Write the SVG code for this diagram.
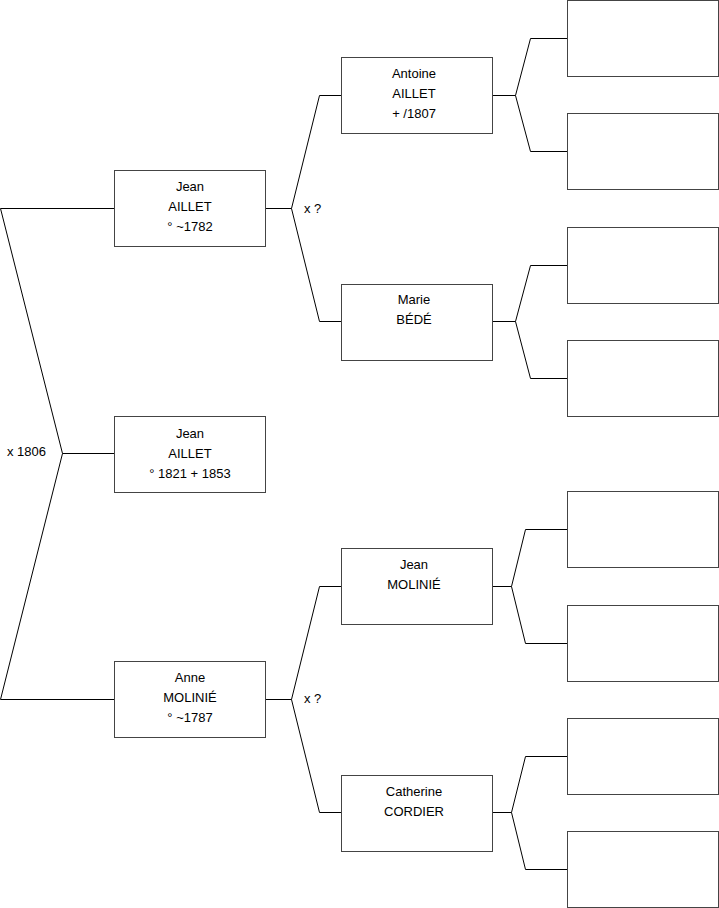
<svg xmlns="http://www.w3.org/2000/svg" width="719" height="908" viewBox="0 0 719 908">
<style>
rect{fill:#fff;stroke:#444;stroke-width:1}
path{fill:none;stroke:#000;stroke-width:1}
text{font-family:"Liberation Sans",Arial,sans-serif;font-size:13px;fill:#000}
.c{text-anchor:middle}
</style>
<rect x="0" y="0" width="719" height="908" style="stroke:none"/>
<g id="connectors">
<path d="M0.5,208.5H114.5M0.5,208.5L62.5,453.5L0.5,699.5H114.5M62.5,453.5H114.5"/>
<path d="M265.5,208.5H291.5M341.5,95.5H319.5L291.5,208.5L319.5,321.5H341.5"/>
<path d="M265.5,699.5H291.5M341.5,586.5H319.5L291.5,699.5L319.5,812.5H341.5"/>
<path d="M492.5,95.5H515.5M567.5,38.5H530.5L515.5,95.5L530.5,151.5H567.5"/>
<path d="M492.5,321.5H515.5M567.5,265.5H530.5L515.5,321.5L530.5,378.5H567.5"/>
<path d="M492.5,586.5H511.5M567.5,529.5H525.5L511.5,586.5L525.5,643.5H567.5"/>
<path d="M492.5,812.5H511.5M567.5,756.5H525.5L511.5,812.5L525.5,869.5H567.5"/>
<text x="7" y="456">x 1806</text>
<text x="304" y="212.5">x ?</text>
<text x="304" y="702.5">x ?</text>
</g>
<g id="jean-aillet-1782">
<rect x="114.5" y="170.5" width="151" height="76"/>
<text class="c" x="190" y="191">Jean</text>
<text class="c" x="190" y="211">AILLET</text>
<text class="c" x="190" y="231">° ~1782</text>
</g>
<g id="jean-aillet-1821">
<rect x="114.5" y="416.5" width="151" height="76"/>
<text class="c" x="190" y="438">Jean</text>
<text class="c" x="190" y="458">AILLET</text>
<text class="c" x="190" y="478">° 1821 + 1853</text>
</g>
<g id="anne-molinie">
<rect x="114.5" y="661.5" width="151" height="76"/>
<text class="c" x="190" y="682">Anne</text>
<text class="c" x="190" y="702">MOLINIÉ</text>
<text class="c" x="190" y="722">° ~1787</text>
</g>
<g id="antoine-aillet">
<rect x="341.5" y="57.5" width="151" height="76"/>
<text class="c" x="414" y="78">Antoine</text>
<text class="c" x="414" y="98">AILLET</text>
<text class="c" x="414" y="118">+ /1807</text>
</g>
<g id="marie-bede">
<rect x="341.5" y="284.5" width="151" height="76"/>
<text class="c" x="414" y="304">Marie</text>
<text class="c" x="414" y="324">BÉDÉ</text>
</g>
<g id="jean-molinie">
<rect x="341.5" y="548.5" width="151" height="76"/>
<text class="c" x="414" y="569">Jean</text>
<text class="c" x="414" y="589">MOLINIÉ</text>
</g>
<g id="catherine-cordier">
<rect x="341.5" y="775.5" width="151" height="76"/>
<text class="c" x="414" y="796">Catherine</text>
<text class="c" x="414" y="816">CORDIER</text>
</g>
<g id="empty-1"><rect x="567.5" y="0.5" width="151" height="76"/></g>
<g id="empty-2"><rect x="567.5" y="113.5" width="151" height="76"/></g>
<g id="empty-3"><rect x="567.5" y="227.5" width="151" height="76"/></g>
<g id="empty-4"><rect x="567.5" y="340.5" width="151" height="76"/></g>
<g id="empty-5"><rect x="567.5" y="491.5" width="151" height="76"/></g>
<g id="empty-6"><rect x="567.5" y="605.5" width="151" height="76"/></g>
<g id="empty-7"><rect x="567.5" y="718.5" width="151" height="76"/></g>
<g id="empty-8"><rect x="567.5" y="831.5" width="151" height="76"/></g>
</svg>
